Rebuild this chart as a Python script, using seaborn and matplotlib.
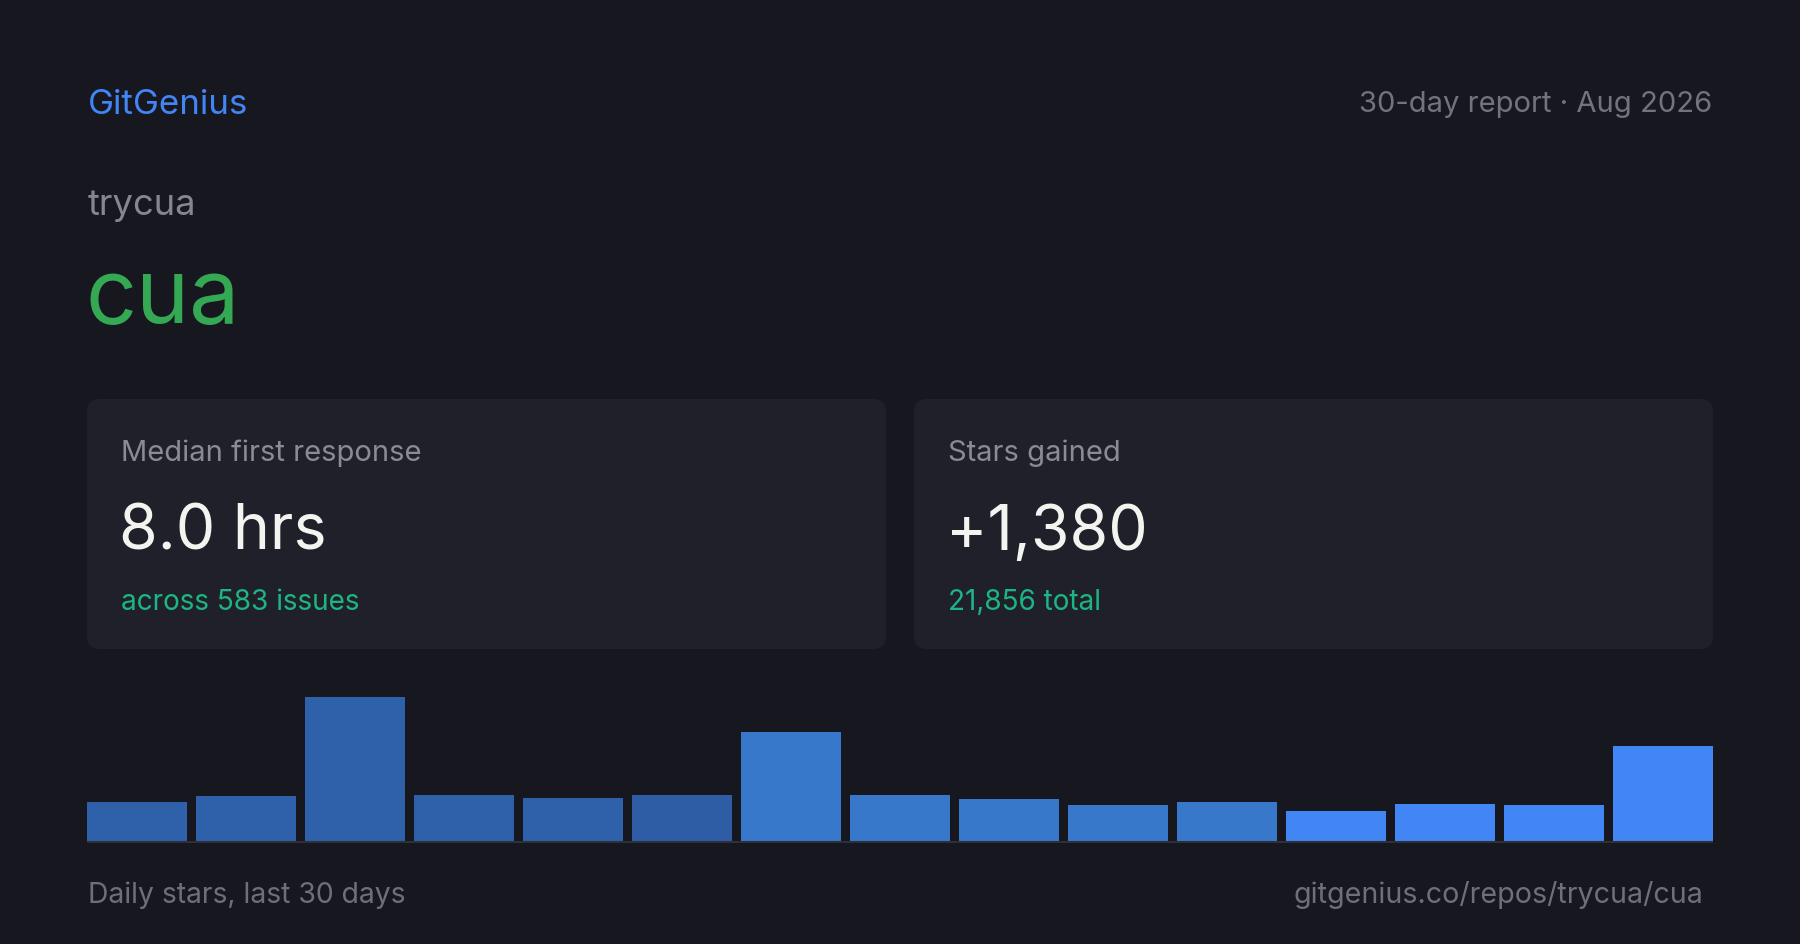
import pandas as pd
import seaborn as sns
import matplotlib.pyplot as plt
from matplotlib.patches import FancyBboxPatch

# data
bins = [str(i) for i in range(1, 16)]
stars = [65, 75, 239, 76, 71, 76, 181, 76, 70, 60, 65, 50, 61, 60, 157]
bar_colors = ['#2F60AA'] * 5 + ['#2E5CA5'] + ['#3778CB'] * 5 + ['#4285F4'] * 4

org = 'trycua'
repo = 'cua'
cards = [('Median first response', '8.0 hrs', 'across 583 issues'),
         ('Stars gained', '+1,380', '21,856 total')]

BG = '#16171F'
CARD = '#1F2029'
W, H = 1800, 945

sns.set_theme(style='white')
plt.rcParams['font.family'] = ['Inter', 'DejaVu Sans']

fig = plt.figure(figsize=(18, 9.45), dpi=100, facecolor=BG)

def fx(x):
    return x / W

def fy(y):
    return 1 - y / H

def txt(x, y, s, size, color, ha='left'):
    fig.text(fx(x), fy(y), s, fontsize=size, color=color, ha=ha, va='baseline')

# header
txt(88, 114, 'GitGenius', 25.1, '#4285F4')
txt(1712, 112, '30-day report \u00b7 Aug 2026', 21, '#72737C', ha='right')
txt(88, 215, org, 26.2, '#85868F')
txt(86, 323, repo, 64.5, '#34A853')

# cards
for i, (label, value, sub) in enumerate(cards):
    x0 = 87 + i * 827
    box = FancyBboxPatch((fx(x0), fy(650)), fx(799), 250 / H,
                         boxstyle='round,pad=0,rounding_size=0.007',
                         transform=fig.transFigure, facecolor=CARD,
                         edgecolor='none', mutation_aspect=W / H)
    fig.patches.append(box)
    txt(x0 + 34, 461, label, 21, '#8A8B94')
    txt(x0 + 32, 550, value, 45, '#F3F3EF')
    txt(x0 + 34, 610, sub, 20.1, '#1DB584')

# bar chart of daily stars
df = pd.DataFrame({'bin': bins, 'stars': stars})
ax = fig.add_axes([fx(87), fy(844), fx(1713 - 87), 146 / H])
sns.barplot(data=df, x='bin', y='stars', hue='bin', palette=bar_colors,
            legend=False, width=0.92, saturation=1, linewidth=0,
            edgecolor='none', ax=ax)
ax.set_xlim(-0.46, len(bins) - 0.54)
ax.set_ylim(-max(stars) * 2 / 144, max(stars))
ax.axhline(-max(stars) * 1 / 144, color='#2E3038', lw=2.2, zorder=5)
ax.set_facecolor('none')
ax.set_axis_off()

# footer
txt(88, 903, 'Daily stars, last 30 days', 20.4, '#6E6F78')
txt(1703, 903, 'gitgenius.co/repos/trycua/cua', 20.6, '#6E6F78', ha='right')

fig.savefig('out.png', dpi=100, facecolor=BG)
